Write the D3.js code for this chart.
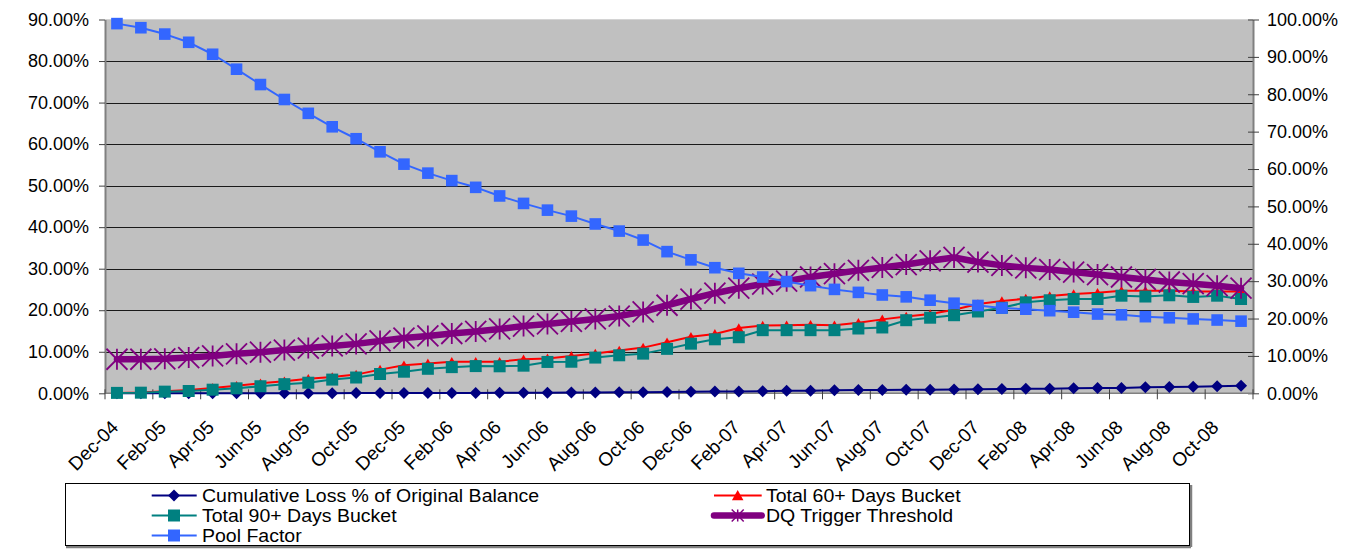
<!DOCTYPE html>
<html><head><meta charset="utf-8">
<script src="https://cdn.jsdelivr.net/npm/d3@7"></script>
<style>
body{margin:0;background:#fff}
text{font-family:Arial,"Liberation Sans",sans-serif;fill:#000}
</style>
</head><body>
<svg id="c" width="1356" height="555"></svg>
<script>
const months = ["Dec-04","Jan-05","Feb-05","Mar-05","Apr-05","May-05","Jun-05","Jul-05","Aug-05","Sep-05","Oct-05","Nov-05","Dec-05",
"Jan-06","Feb-06","Mar-06","Apr-06","May-06","Jun-06","Jul-06","Aug-06","Sep-06","Oct-06","Nov-06","Dec-06",
"Jan-07","Feb-07","Mar-07","Apr-07","May-07","Jun-07","Jul-07","Aug-07","Sep-07","Oct-07","Nov-07","Dec-07",
"Jan-08","Feb-08","Mar-08","Apr-08","May-08","Jun-08","Jul-08","Aug-08","Sep-08","Oct-08","Nov-08"];

const cumLoss = [0,0,0,0,0.01,0.01,0.02,0.02,0.03,0.04,0.05,0.06,0.07,0.08,0.09,0.1,
0.12,0.14,0.16,0.18,0.2,0.25,0.28,0.3,0.35,0.42,0.45,0.5,0.6,0.62,0.72,0.8,
0.82,0.85,0.87,0.9,0.95,1.02,1.08,1.12,1.22,1.27,1.3,1.45,1.5,1.6,1.7,1.83];
const dq60 = [0.1,0.2,0.5,0.8,1.3,1.8,2.4,2.9,3.5,3.9,4.5,5.7,6.75,7.2,7.6,7.6,7.6,8.2,8.4,9.0,
9.6,10.3,11.0,12.3,13.6,14.3,15.7,16.3,16.4,16.5,16.4,17.0,17.8,18.5,19.1,20.1,21.5,22.2,22.8,23.4,
23.9,24.2,24.7,24.7,24.7,24.5,24.5,24.5];
const dq90 = [0.1,0.15,0.4,0.55,0.87,1.2,1.7,2.2,2.55,3.3,3.8,4.65,5.2,5.9,6.3,6.55,6.5,6.65,7.55,7.6,
8.6,9.15,9.55,10.7,11.95,13.0,13.5,15.2,15.2,15.2,15.2,15.6,15.85,17.6,18.2,18.8,19.7,20.6,21.9,22.4,
22.7,22.7,23.5,23.3,23.6,23.2,23.5,22.7];
const dqTrigger = [8.2,8.2,8.3,8.6,9.0,9.5,9.9,10.4,10.9,11.4,11.9,12.6,13.3,13.8,14.4,14.9,15.5,16.2,16.7,17.3,
17.9,18.6,19.6,21.2,22.7,24.1,25.3,26.3,27.0,28.0,28.8,29.6,30.3,31.0,31.9,32.7,31.6,30.8,30.2,29.8,
29.2,28.6,28.0,27.4,26.8,26.4,25.9,25.3];
const poolFactor = [98.9,97.8,96.1,93.9,90.7,86.7,82.6,78.6,74.9,71.3,68.1,64.6,61.3,58.9,56.9,55.1,52.8,50.8,49.0,47.4,
45.3,43.4,41.0,37.9,35.7,33.6,32.1,31.1,29.9,28.8,27.8,27.0,26.3,25.8,24.9,24.1,23.5,22.8,22.5,22.1,
21.7,21.2,21.0,20.5,20.2,19.9,19.6,19.3];

const leftTicks = [0,10,20,30,40,50,60,70,80,90];
const rightTicks = [0,10,20,30,40,50,60,70,80,90,100];
const xTickLabels = months.filter((m,i)=>i%2===0);

const legendItems = [
  {name:"Cumulative Loss % of Original Balance", key:"loss", col:0, row:0},
  {name:"Total 60+ Days Bucket", key:"d60", col:1, row:0},
  {name:"Total 90+ Days Bucket", key:"d90", col:0, row:1},
  {name:"DQ Trigger Threshold", key:"trig", col:1, row:1},
  {name:"Pool Factor", key:"pool", col:0, row:2}
];

const svg = d3.select("#c");
const L = 105, R = 1253, T = 19.5, B = 393.3;

const x = d3.scaleBand().domain(months).range([L, R]);
const yL = d3.scaleLinear().domain([0, 90]).range([B, T]);
const yR = d3.scaleLinear().domain([0, 100]).range([B, T]);
const cx = m => x(m) + x.bandwidth()/2;

// plot background
svg.append("rect").attr("x", L).attr("y", T).attr("width", R-L).attr("height", B-T).attr("fill", "#C0C0C0");
svg.append("line").attr("x1", L).attr("x2", R).attr("y1", T).attr("y2", T).attr("stroke", "#d4d4d4").attr("stroke-width", 1);

// gridlines
svg.append("g").selectAll("line").data(leftTicks.filter(t => t > 0 && t < 90)).join("line")
  .attr("x1", L).attr("x2", R).attr("y1", d => Math.round(yL(d)) + 0.5).attr("y2", d => Math.round(yL(d)) + 0.5)
  .attr("stroke", "#1a1a1a").attr("stroke-width", 1);

// left axis
const gl = svg.append("g").attr("transform", `translate(${L},0)`)
  .call(d3.axisLeft(yL).tickValues(leftTicks).tickFormat(d => d.toFixed(2) + "%").tickSizeInner(6).tickSizeOuter(0).tickPadding(10));
gl.select(".domain").attr("stroke", "#808080").attr("stroke-width", 2);
gl.selectAll(".tick line").attr("stroke", "#404040");
gl.selectAll("text").style("font-size", "18px").style("font-family", "Arial, 'Liberation Sans', sans-serif").attr("fill", "#000");

// right axis
const gr = svg.append("g").attr("transform", `translate(${R},0)`)
  .call(d3.axisRight(yR).tickValues(rightTicks).tickFormat(d => d.toFixed(2) + "%").tickSizeInner(6).tickSizeOuter(0).tickPadding(8));
gr.select(".domain").attr("stroke", "#808080").attr("stroke-width", 2);
gr.selectAll(".tick line").attr("stroke", "#404040").attr("x1", -5);
gr.selectAll("text").style("font-size", "18px").style("font-family", "Arial, 'Liberation Sans', sans-serif").attr("fill", "#000");

// x axis
svg.append("line").attr("x1", L).attr("x2", R).attr("y1", B).attr("y2", B).attr("stroke", "#808080").attr("stroke-width", 1.5);
const tickBounds = months.map((m,i)=>i).filter(i => i % 2 === 0).map(i => x(months[i])).concat([R]);
svg.append("g").selectAll("line").data(tickBounds).join("line")
  .attr("x1", d => d).attr("x2", d => d).attr("y1", B - 4).attr("y2", B + 6)
  .attr("stroke", "#404040").attr("stroke-width", 1);
svg.append("g").selectAll("text").data(xTickLabels).join("text")
  .attr("transform", d => `translate(${cx(d) + 2.5},${428.5}) rotate(-45)`)
  .attr("text-anchor", "end").style("font-size", "19px").text(d => d);

// marker shapes
function markerPath(type, s) {
  switch (type) {
    case "diamond": return `M0,${-s}L${s},0L0,${s}L${-s},0Z`;
    case "square": return `M${-s},${-s}H${s}V${s}H${-s}Z`;
    case "triangle": return `M0,${-s}L${s*1.05},${s*0.85}L${-s*1.05},${s*0.85}Z`;
    case "star": return `M${-s},${-s}L${s},${s}M${-s},${s}L${s},${-s}M0,${-s}V${s}`;
  }
}

const series = [
  {key:"loss", data:cumLoss, y:yL, color:"#000080", width:2, marker:"diamond", ms:6, lms:6},
  {key:"d60", data:dq60, y:yL, color:"#FF0000", width:2, marker:"triangle", ms:4.8, lms:5.5},
  {key:"d90", data:dq90, y:yL, color:"#008080", width:2, marker:"square", ms:6, lms:6},
  {key:"trig", data:dqTrigger, y:yL, color:"#800080", width:6.5, marker:"star", ms:10.5, lms:6},
  {key:"pool", data:poolFactor, y:yR, color:"#3366FF", width:2, marker:"square", ms:5.8, lms:6}
];

series.forEach(s => {
  const g = svg.append("g");
  const line = d3.line().x((d,i) => cx(months[i])).y(d => s.y(d));
  g.append("path").attr("d", line(s.data)).attr("fill", "none").attr("stroke", s.color)
    .attr("stroke-width", s.width).attr("stroke-linejoin", "round").attr("stroke-linecap", "round");
  g.selectAll("path.m").data(s.data).join("path").attr("class", "m")
    .attr("transform", (d,i) => `translate(${cx(months[i])},${s.y(d)})`)
    .attr("d", markerPath(s.marker, s.ms))
    .attr("fill", s.marker === "star" ? "none" : s.color)
    .attr("stroke", s.marker === "star" ? s.color : "none")
    .attr("stroke-width", s.marker === "star" ? 1.8 : 0);
});

// legend
const lg = svg.append("g");
lg.append("line").attr("x1", 66).attr("x2", 1191).attr("y1", 547).attr("y2", 547).attr("stroke", "#808080").attr("stroke-width", 2.5);
lg.append("line").attr("x1", 1191).attr("x2", 1191).attr("y1", 485).attr("y2", 547).attr("stroke", "#808080").attr("stroke-width", 2.5);
lg.append("rect").attr("x", 65.5).attr("y", 483.5).attr("width", 1124).attr("height", 62).attr("fill", "#fff").attr("stroke", "#000").attr("stroke-width", 1);
const colX = [{l1:151.7, l2:196.7, m:174, t:202}, {l1:714, l2:761.7, m:737.7, t:766}];
const rowY = [495.5, 515.5, 535.5];
legendItems.forEach(it => {
  const s = series.find(q => q.key === it.key);
  const c = colX[it.col], yy = rowY[it.row];
  lg.append("line").attr("x1", c.l1).attr("x2", c.l2).attr("y1", yy).attr("y2", yy)
    .attr("stroke", s.color).attr("stroke-width", s.width).attr("stroke-linecap", s.key === "trig" ? "round" : "butt");
  lg.append("path").attr("transform", `translate(${c.m},${yy})`).attr("d", markerPath(s.marker, s.lms))
    .attr("fill", s.marker === "star" ? "none" : s.color)
    .attr("stroke", s.marker === "star" ? s.color : "none").attr("stroke-width", s.marker === "star" ? 1.5 : 0);
  const t = lg.append("text").attr("x", c.t).attr("y", yy + 6.5).style("font-size", "17.5px").text(it.name);
  const w = t.node().getComputedTextLength();
  t.attr("textLength", (w * 19.5 / 17.5).toFixed(1)).attr("lengthAdjust", "spacingAndGlyphs");
});
</script>
</body></html>
